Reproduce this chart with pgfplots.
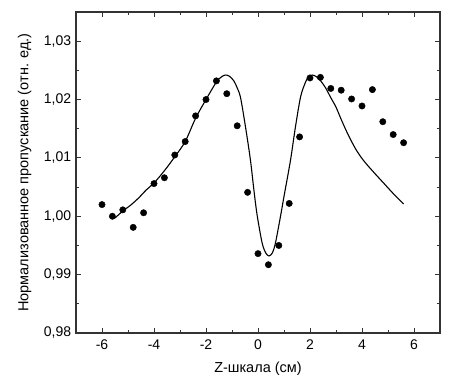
\documentclass[border=0pt]{standalone}
\usepackage{fontspec}
\setmainfont{Liberation Sans}
\usepackage{pgfplots}
\pgfplotsset{compat=1.18}
\begin{document}
\fontsize{14}{17}\selectfont
\begin{tikzpicture}
\begin{axis}[
  scale only axis,
  width=364pt, height=321pt,
  xmin=-7, xmax=7, ymin=0.98, ymax=1.035,
  xtick={-6,-4,...,6}, minor xtick={-7,-5,...,7},
  ytick={0.98,0.99,...,1.031}, minor ytick={0.985,0.995,1.005,1.015,1.025,1.035},
  tick align=inside,
  major tick length=5pt, minor tick length=3pt,
  every tick/.style={black!80, line width=0.9pt},
  axis line style={black!80, line width=1.1pt},
  /pgf/number format/assume math mode=true,
  yticklabel style={/pgf/number format/use comma, /pgf/number format/fixed, /pgf/number format/fixed zerofill, /pgf/number format/precision=2},
  scaled y ticks=false,
  xlabel={Z-шкала (см)},
  ylabel={Нормализованное пропускание (отн. ед.)},
  xlabel style={yshift=-3pt},
  ylabel style={yshift=3pt},
  xticklabel style={yshift=-2pt},
  tick label style={font=\fontsize{14}{17}\selectfont},
  label style={font=\fontsize{14.5}{17}\selectfont},
]
\addplot[only marks, mark=*, mark size=3.2pt, black] coordinates {
(-6.0,1.0020) (-5.6,1.0000) (-5.2,1.0011) (-4.8,0.9981) (-4.4,1.0006)
(-4.0,1.0056) (-3.6,1.0066) (-3.2,1.0105) (-2.8,1.0128) (-2.4,1.0172)
(-2.0,1.0200) (-1.6,1.0232) (-1.2,1.0210) (-0.8,1.0155) (-0.4,1.0041)
(0.0,0.9936) (0.4,0.9917) (0.8,0.9950) (1.2,1.0022) (1.6,1.0136)
(2.0,1.0237) (2.4,1.0238) (2.8,1.0219) (3.2,1.0216) (3.6,1.0201)
(4.0,1.0189) (4.4,1.0217) (4.8,1.0162) (5.2,1.0140) (5.6,1.0126)
};
\addplot[smooth, black, line width=1.1pt, tension=0.5] coordinates {
(-5.5,0.9997) (-5.2,1.0009) (-4.9,1.0019) (-4.6,1.0031) (-4.3,1.0045)
(-4.0,1.0057) (-3.6,1.0078) (-3.2,1.0102) (-2.8,1.0128) (-2.4,1.0168)
(-2.0,1.0200) (-1.6,1.0230) (-1.4,1.0239) (-1.25,1.0242) (-1.1,1.0240)
(-0.93,1.0232) (-0.8,1.0220) (-0.67,1.0203) (-0.48,1.0153) (-0.29,1.0096)
(-0.15,1.0042) (-0.03,1.0001) (0.16,0.9954) (0.3,0.9937) (0.42,0.9932)
(0.55,0.9937) (0.67,0.9954) (0.87,1.0001) (1.0,1.0034) (1.25,1.0096)
(1.44,1.0153) (1.64,1.0205) (1.83,1.0230) (1.95,1.0239) (2.09,1.0242)
(2.25,1.0239) (2.41,1.0232) (2.6,1.0220) (2.79,1.0204) (3.0,1.0187)
(3.18,1.0168) (3.4,1.0146) (3.6,1.0128) (3.8,1.0112) (4.0,1.0099)
(4.2,1.0088) (4.5,1.0073) (4.85,1.0056) (5.2,1.0039) (5.6,1.0021)
};
\end{axis}
\path (current axis.south west) ++(-76pt,-51pt);
\path (current axis.north east) ++(27pt,12pt);
\end{tikzpicture}
\end{document}
